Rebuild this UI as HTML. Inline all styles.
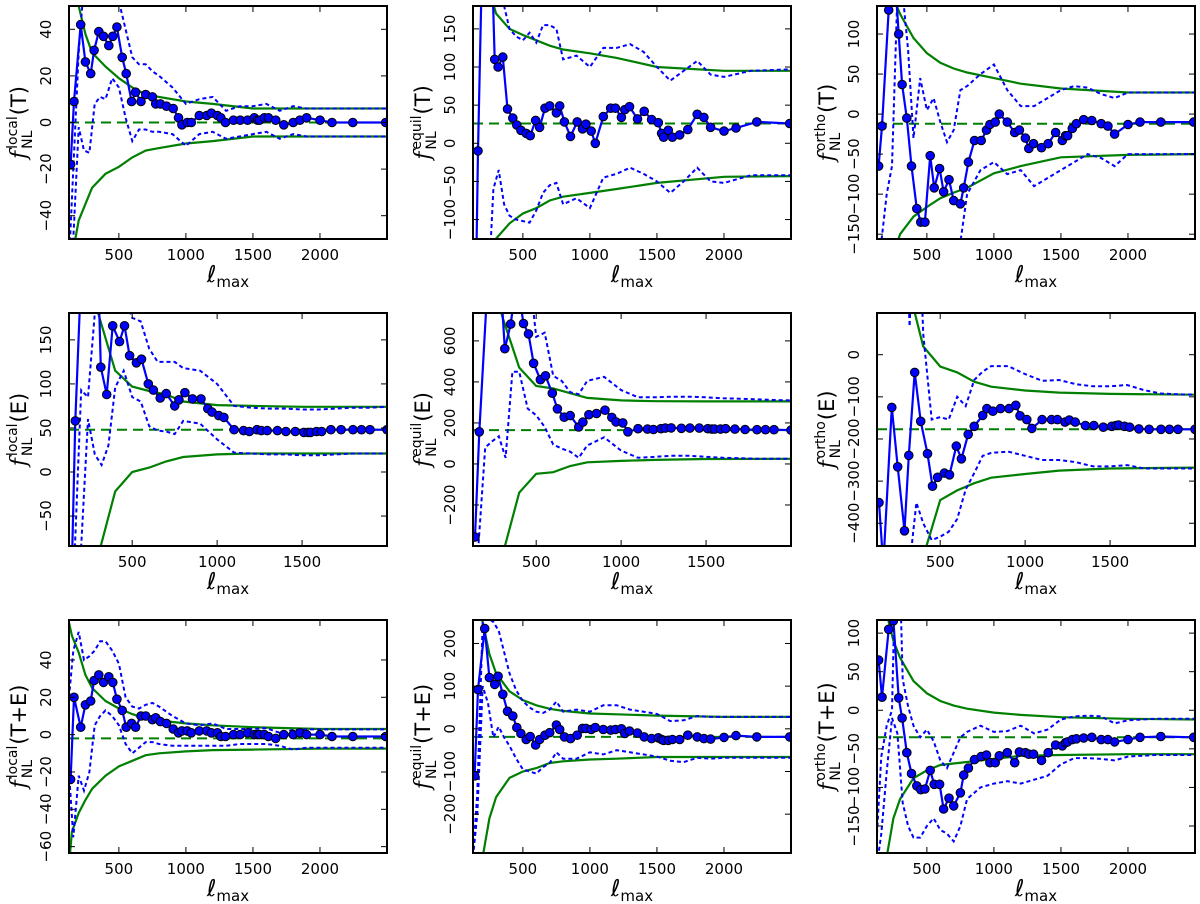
<!DOCTYPE html>
<html><head><meta charset="utf-8"><style>
html,body{margin:0;padding:0;background:#fff;width:1200px;height:904px;overflow:hidden;}
svg{display:block;font-family:"DejaVu Sans","Liberation Sans",sans-serif;}
</style></head><body>
<svg id="fig" width="1200" height="904" viewBox="0 0 1200 904" xmlns="http://www.w3.org/2000/svg"></svg>
<script>
const ellC=[140,165,215,250,290,315,350,385,425,455,485,525,555,595,625,665,700,750,775,810,855,905,945,970,1010,1040,1100,1155,1190,1235,1260,1295,1355,1405,1460,1510,1535,1550,1585,1615,1670,1730,1800,1850,1900,2000,2090,2245,2490];
const ellD=[128,160,200,240,280,320,360,400,450,500,550,600,650,700,750,800,900,1000,1100,1200,1300,1400,1500,1600,1700,1800,1900,2000,2200,2500];
const ellG=[128,150,200,250,300,400,500,600,700,800,1000,1200,1500,2000,2500];
const xTicksWide=[500,1000,1500,2000];
const xTicksNarrow=[500,1000,1500];

const p1Center=[-18,9,42,26,21,31,39,37,33,37,41,28,21,9,13,9,12,11,8,8,7,6,2,-1,0,0,3,3,4,3,2,0,1,1,1,2,1,1,2,2,1,-1,0,1,2,1,0,0,0];
const p1DotHi=[-60,-20,30,60,60,60,60,60,60,52,40,28,25,25,22,20,15,8,10,11,5,7,7,8,5,7,6,6,6,6];
const p1DotLo=[-60,-50,-2,-12,-13,8,11,10,19,15,2,-8,-3,-3,-4,-4,-5,-10,-5,-4,-7,-6,-5,-4,-7,-5,-6,-6,-6,-6];
const p1GreenHi=[70,60,50,38,30,24,19,15,12,11,9,8,6,6,6];
const p1GreenLo=[-70,-58,-42,-35,-28,-22,-19,-15,-12,-11,-9,-8,-6,-6,-6];
const p1Mean=0;
const p1YTicks=[-40,-20,0,20,40];

const p2Center=[-300,-10,400,350,110,100,113,45,33,24,17,13,10,30,21,46,49,40,49,28,9,28,19,25,16,0,35,46,46,34,44,48,32,42,31,27,13,8,17,8,11,18,38,34,21,16,20,28,26];
const p2DotHi=[300,300,300,300,300,250,180,150,140,135,145,132,155,155,150,110,115,100,125,125,130,120,100,82,95,108,90,87,95,97];
const p2DotLo=[-300,-300,-300,-200,-60,-35,-80,-95,-100,-102,-104,-88,-65,-55,-52,-80,-72,-85,-45,-40,-32,-40,-50,-65,-50,-32,-50,-52,-42,-42];
const p2GreenHi=[450,350,260,200,170,150,142,135,128,123,118,112,100,95,95];
const p2GreenLo=[-450,-350,-260,-200,-125,-105,-92,-85,-75,-70,-65,-60,-52,-44,-43];
const p2Mean=26;
const p2YTicks=[-100,-50,0,50,100,150];

const p3Center=[-65,-15,130,200,100,37,-5,-65,-118,-135,-135,-52,-92,-68,-97,-82,-108,-112,-92,-60,-33,-33,-20,-13,-10,0,-10,-23,-20,-30,-43,-37,-42,-37,-23,-33,-27,-27,-18,-12,-7,-8,-12,-15,-25,-13,-10,-10,-10];
const p3DotHi=[-160,-160,-100,-65,150,150,80,-30,45,5,20,-10,-35,-20,30,35,50,62,30,10,10,20,30,35,33,25,20,27,27,27];
const p3DotLo=[-200,-200,-200,-200,-200,-200,-200,-200,-200,-200,-200,-200,-200,-200,-160,-100,-70,-60,-75,-70,-90,-80,-70,-60,-50,-55,-65,-50,-50,-50];
const p3GreenHi=[250,220,180,145,125,95,76,64,57,52,45,38,32,27,27];
const p3GreenLo=[-300,-260,-210,-175,-150,-128,-116,-105,-98,-92,-74,-65,-54,-51,-50];
const p3Mean=-12;
const p3YTicks=[-150,-100,-50,0,50,100];

const p4Center=[-150,58,300,300,300,119,88,166,148,166,132,124,128,100,93,84,89,75,82,90,83,83,72,68,64,62,48,47,46,48,47,47,47,46,46,45,45,45,46,46,48,48,48,48,48,48,48,48,48];
const p4DotHi=[-300,-100,93,85,180,200,200,200,200,175,171,140,125,125,125,118,115,100,75,73,72,72,71,71,72,73,73,74,74,74];
const p4DotLo=[-300,-200,-84,60,20,8,30,96,115,85,80,52,47,46,43,58,55,37,22,21,20,20,19,19,20,21,21,21,21,21];
const p4GreenHi=[400,330,260,220,180,115,97,92,88,80,76,75,74,74,74];
const p4GreenLo=[-300,-250,-180,-130,-95,-22,0,5,12,17,20,21,21,21,21];
const p4Mean=48;
const p4YTicks=[-50,0,50,100,150];

const p5Center=[-356,157,900,900,900,562,682,900,685,634,491,411,430,345,269,228,236,180,204,240,246,262,227,205,200,157,172,170,168,172,175,176,174,175,175,172,170,170,170,172,170,168,167,167,167,165,165,165,165];
const p5DotHi=[2000,2000,2000,2000,2000,2000,2000,2000,1000,620,640,430,405,350,340,405,425,360,325,325,328,328,325,320,318,315,312,310,310,310];
const p5DotLo=[-1000,-400,80,110,135,30,450,450,270,237,180,95,75,60,30,90,130,65,30,35,40,40,35,30,28,25,25,25,25,25];
const p5GreenHi=[2000,1500,1100,900,720,470,380,368,345,322,310,306,305,305,305];
const p5GreenLo=[-1500,-1200,-900,-650,-450,-140,-48,-40,-10,8,15,20,24,25,25];
const p5Mean=165;
const p5YTicks=[-200,0,200,400,600];

const p6Center=[-351,-500,-125,-266,-418,-239,-42,-158,-235,-312,-291,-281,-285,-217,-247,-189,-170,-144,-128,-134,-128,-128,-120,-145,-154,-175,-154,-154,-154,-160,-155,-160,-168,-168,-172,-170,-168,-167,-170,-172,-176,-177,-177,-177,-177,-177,-177,-177,-177];
const p6DotHi=[500,500,500,500,500,67,500,50,-154,-148,-154,-100,-122,-60,-40,-27,-27,-46,-62,-60,-70,-75,-75,-72,-84,-92,-94,-95,-95,-95];
const p6DotLo=[-600,-600,-600,-600,-600,-500,-351,-400,-440,-432,-420,-390,-320,-281,-240,-233,-230,-240,-250,-250,-255,-265,-265,-262,-270,-270,-270,-270,-270,-270];
const p6GreenHi=[800,600,400,280,180,20,-28,-42,-64,-76,-85,-90,-93,-95,-95];
const p6GreenLo=[-1500,-1200,-900,-700,-600,-480,-345,-322,-305,-292,-283,-275,-270,-268,-268];
const p6Mean=-177;
const p6YTicks=[-400,-300,-200,-100,0];

const p7Center=[-24,20,4,16,18,29,32,28,31,28,19,13,4,6,4,10,10,8,9,7,6,3,1,2,2,1,2,2,1,1,-1,-1,0,0,1,0,0,0,0,-1,-2,0,0,1,0,0,-1,-1,-1];
const p7DotHi=[20,45,55,40,42,45,50,50,45,38,20,15,14,16,17,15,10,6,5,6,3,3,3,3.5,1,2.5,2.8,2.8,2.8,2.8];
const p7DotLo=[-20,-55,-22,-30,-20,5,10,13,10,5,-5,-10,-7,-4,-4,-5,-6,-6,-6,-6,-6,-5,-5,-5,-6,-8,-7,-7,-7,-7];
const p7GreenHi=[60,53,44,32,25,18,14,11,8.5,7.5,6,5,4,3,3];
const p7GreenLo=[-70,-52,-42,-35,-29,-22,-17,-14,-11,-10,-9,-8.3,-8,-7.5,-7.5];
const p7Mean=-2;
const p7YTicks=[-60,-40,-20,0,20,40];

const p8Center=[-110,92,235,120,104,123,81,41,30,3,-11,-25,-18,-38,-25,-15,-9,9,-1.5,-19,-23,-15,1,1,-1.5,3,-1.5,-3,-1.5,0,-11,-5,-10,-19,-23,-21,-25,-27,-27,-25,-25,-15,-19,-23,-24,-20,-16,-19,-19];
const p8DotHi=[-300,-150,250,260,250,230,180,130,90,65,50,40,37,45,64,40,45,40,55,55,45,40,35,18,20,30,28,28,28,28];
const p8DotLo=[-300,-200,100,60,-20,5,-20,-40,-70,-95,-100,-105,-90,-80,-55,-70,-70,-55,-60,-50,-55,-60,-65,-75,-78,-68,-70,-68,-68,-68];
const p8GreenHi=[400,330,250,175,130,88,67,55,47,42,36,34,31,28,28];
const p8GreenLo=[-450,-380,-300,-210,-160,-115,-100,-92,-80,-76,-72,-70,-66,-66,-66];
const p8Mean=-19;
const p8YTicks=[-200,-100,0,100,200];

const p9Center=[65,17,105,116,16,-10,-55,-82,-98,-103,-102,-78,-96,-96,-128,-114,-124,-107,-84,-75,-64,-60,-58,-68,-68,-59,-55,-68,-54,-55,-57,-57,-65,-55,-45,-46,-42,-41,-38,-37,-36,-35,-38,-38,-41,-38,-35,-34,-35];
const p9DotHi=[-160,-60,-20,0,300,40,5,-20,-35,-25,-40,-65,-75,-55,-35,-28,-20,-28,-27,-20,-30,-25,-12,-8,-7,-8,-17,-13,-11,-11];
const p9DotLo=[-200,-160,-80,-10,-30,-120,-150,-165,-165,-150,-140,-155,-160,-170,-150,-115,-100,-95,-92,-95,-90,-85,-70,-62,-62,-63,-65,-60,-58,-58];
const p9GreenHi=[220,180,125,90,68,38,22,12,6,2,-3,-6,-9,-11,-12];
const p9GreenLo=[-280,-250,-190,-140,-115,-88,-78,-71,-69,-67,-63,-59,-58,-57,-57];
const p9Mean=-35;
const p9YTicks=[-150,-100,-50,0,50,100];

const NS='http://www.w3.org/2000/svg';
const svg=document.getElementById('fig');
function mk(tag,attrs,parent){const e=document.createElementNS(NS,tag);for(const k in attrs)e.setAttribute(k,attrs[k]);(parent||svg).appendChild(e);return e;}

const colX=[69,473,877], rowY=[6,313,620], W=318, H=233;
const shapes=['local','equil','ortho'];
const fields=['T','E','T+E'];
const panels=[
 {r:0,c:0,ymin:-50,ymax:50,center:p1Center,dHi:p1DotHi,dLo:p1DotLo,gHi:p1GreenHi,gLo:p1GreenLo,mean:p1Mean,yt:p1YTicks},
 {r:0,c:1,ymin:-125.5,ymax:180,center:p2Center,dHi:p2DotHi,dLo:p2DotLo,gHi:p2GreenHi,gLo:p2GreenLo,mean:p2Mean,yt:p2YTicks},
 {r:0,c:2,ymin:-156,ymax:135,center:p3Center,dHi:p3DotHi,dLo:p3DotLo,gHi:p3GreenHi,gLo:p3GreenLo,mean:p3Mean,yt:p3YTicks},
 {r:1,c:0,ymin:-84,ymax:180.5,center:p4Center,dHi:p4DotHi,dLo:p4DotLo,gHi:p4GreenHi,gLo:p4GreenLo,mean:p4Mean,yt:p4YTicks},
 {r:1,c:1,ymin:-400,ymax:736,center:p5Center,dHi:p5DotHi,dLo:p5DotLo,gHi:p5GreenHi,gLo:p5GreenLo,mean:p5Mean,yt:p5YTicks},
 {r:1,c:2,ymin:-454,ymax:99,center:p6Center,dHi:p6DotHi,dLo:p6DotLo,gHi:p6GreenHi,gLo:p6GreenLo,mean:p6Mean,yt:p6YTicks},
 {r:2,c:0,ymin:-63.4,ymax:61.4,center:p7Center,dHi:p7DotHi,dLo:p7DotLo,gHi:p7GreenHi,gLo:p7GreenLo,mean:p7Mean,yt:p7YTicks},
 {r:2,c:1,ymin:-291,ymax:255,center:p8Center,dHi:p8DotHi,dLo:p8DotLo,gHi:p8GreenHi,gLo:p8GreenLo,mean:p8Mean,yt:p8YTicks},
 {r:2,c:2,ymin:-185,ymax:117,center:p9Center,dHi:p9DotHi,dLo:p9DotLo,gHi:p9GreenHi,gLo:p9GreenLo,mean:p9Mean,yt:p9YTicks}
];

panels.forEach((p,i)=>{
  const x0=colX[p.c], y0=rowY[p.r];
  const xmin=128, xmax=(p.r===1)?2000:2500;
  const xs=v=>x0+(v-xmin)/(xmax-xmin)*W;
  const ys=v=>y0+H-(v-p.ymin)/(p.ymax-p.ymin)*H;
  const g=mk('g',{});
  
  
  const cp=mk('clipPath',{id:'clip'+i},g);
  mk('rect',{x:x0,y:y0,width:W,height:H},cp);
  const plot=mk('g',{'clip-path':'url(#clip'+i+')'},g);
  
  
  const path=(xa,ya)=>xa.map((v,k)=>(k?'L':'M')+xs(v).toFixed(1)+','+ys(ya[k]).toFixed(1)).join(' ');
  const gh=mk('path',{d:path(ellG,p.gHi),fill:'none',stroke:'#007f00','stroke-width':2.2},plot);
  
  
  const gl=mk('path',{d:path(ellG,p.gLo),fill:'none',stroke:'#007f00','stroke-width':2.2},plot);
  
  
  const dm=mk('line',{x1:x0,x2:x0+W,y1:ys(p.mean),y2:ys(p.mean),stroke:'#007f00','stroke-width':2,'stroke-dasharray':'10,6'},plot);
  
  
  const dh=mk('path',{d:path(ellD,p.dHi),fill:'none',stroke:'#0000ff','stroke-width':2,'stroke-dasharray':'4,3'},plot);
  
  
  const dl=mk('path',{d:path(ellD,p.dLo),fill:'none',stroke:'#0000ff','stroke-width':2,'stroke-dasharray':'4,3'},plot);
  
  
  const cl=mk('path',{d:path(ellC,p.center),fill:'none',stroke:'#0000ff','stroke-width':2.2},plot);
  
  
  ellC.forEach((v,k)=>{
    const c=mk('circle',{cx:xs(v).toFixed(1),cy:ys(p.center[k]).toFixed(1),r:4.3,fill:'#0000ff',stroke:'#000','stroke-width':1},plot);
    
    
  });
  const fr=mk('rect',{x:x0,y:y0,width:W,height:H,fill:'none',stroke:'#000','stroke-width':2},g);
  
  
  const xt=(p.r===1)?xTicksNarrow:xTicksWide;
  xt.forEach(v=>{
    const x=xs(v);
    mk('line',{x1:x,x2:x,y1:y0+H,y2:y0+H-6,stroke:'#000','stroke-width':1},g);
    mk('line',{x1:x,x2:x,y1:y0,y2:y0+6,stroke:'#000','stroke-width':1},g);
    const t=mk('text',{x:x,y:y0+H+21,'text-anchor':'middle','font-size':15,fill:'#000'},g);
    t.textContent=v;
    
    
  });
  p.yt.forEach(v=>{
    const y=ys(v);
    mk('line',{x1:x0,x2:x0+6,y1:y,y2:y,stroke:'#000','stroke-width':1},g);
    mk('line',{x1:x0+W,x2:x0+W-6,y1:y,y2:y,stroke:'#000','stroke-width':1},g);
    const t=mk('text',{transform:'translate('+(x0-18)+','+y.toFixed(1)+') rotate(-90)','text-anchor':'middle','font-size':15,fill:'#000'},g);
    t.textContent=(v<0?'\u2212'+(-v):String(v));
    
    
  });
  const xl=mk('text',{x:x0+W/2,y:y0+H+43,'text-anchor':'middle',fill:'#000'},g);
  
  
  const t1=mk('tspan',{'font-size':23,'font-style':'italic'},xl);t1.textContent='\u2113';
  const t2=mk('tspan',{'font-size':15,dy:5},xl);t2.textContent='max';
  const yl=mk('g',{transform:'translate('+(x0-43)+','+(y0+H/2)+') rotate(-90)'},g);
  
  
  const f=mk('text',{x:0,y:0,'font-size':22,'font-style':'italic',fill:'#000','font-family':'"DejaVu Serif","Liberation Serif",serif'},yl);f.textContent='f';
  const fw=f.getComputedTextLength()+2;
  const sup=mk('text',{x:fw,y:-9,'font-size':14,fill:'#000'},yl);sup.textContent=shapes[p.c];
  const sub=mk('text',{x:fw,y:6,'font-size':14,fill:'#000'},yl);sub.textContent='NL';
  const w2=Math.max(sup.getComputedTextLength(),sub.getComputedTextLength());
  const par=mk('text',{x:fw+w2+1,y:0,'font-size':21,fill:'#000'},yl);par.textContent='('+fields[p.r]+')';
  const total=fw+w2+1+par.getComputedTextLength();
  [f,sup,sub,par].forEach(e=>e.setAttribute('x',parseFloat(e.getAttribute('x'))-total/2));
});
</script>
</body></html>
